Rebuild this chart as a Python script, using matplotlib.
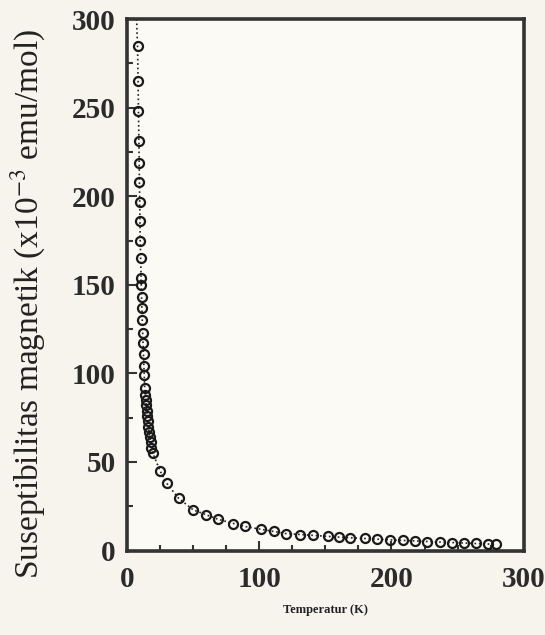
import numpy as np
import matplotlib
matplotlib.use('Agg')
import matplotlib.pyplot as plt
from matplotlib.ticker import MultipleLocator

temp = [8.0, 8.3, 8.6, 8.9, 9.1, 9.3, 9.5, 9.8, 10.0, 10.3, 10.6, 10.8, 11.0,
        11.3, 11.6, 11.9, 12.2, 12.5, 12.8, 13.1, 13.4, 13.8, 14.2, 14.6, 15.0,
        15.4, 15.8, 16.2, 16.7, 17.2, 17.8, 18.5, 19.5, 25, 30, 39, 50, 60, 69,
        80, 89, 101, 111, 120, 131, 141, 152, 160, 169, 180, 189, 199, 209, 218,
        227, 237, 246, 255, 264, 273, 279]
chi = [285, 265, 248, 231, 219, 208, 197, 186, 175, 165, 154, 150, 143,
       137, 130, 123, 117, 111, 104, 99, 92, 88, 85, 82, 79,
       76, 73, 70, 67, 64, 61, 58, 55, 45, 38, 29.5, 23, 20, 17.6,
       15, 13.6, 12, 10.8, 9.6, 9.0, 8.5, 8.0, 7.6, 7.2, 6.8, 6.4, 6.0, 5.7, 5.4,
       5.1, 4.8, 4.5, 4.3, 4.0, 3.7, 3.5]

# dotted guide curve through the data
fit_t = [7.3, 7.6, 8.0, 9.0, 10.0, 11.0, 12.0, 13.4, 15.0, 17.0, 19.5, 25, 30,
         39, 50, 69, 89, 120, 160, 200, 240, 279]
fit_chi = [300, 292, 285, 231, 175, 143, 120, 92, 79, 65, 55, 45, 38,
           29.5, 23, 17.6, 13.6, 9.6, 7.6, 6.0, 4.7, 3.5]

plt.rcParams['font.family'] = ['Liberation Serif', 'DejaVu Serif']
plt.rcParams['mathtext.fontset'] = 'stix'

fig = plt.figure(figsize=(5.45, 6.35), dpi=100, facecolor='#f6f4ec')
ax = fig.add_axes([0.233, 0.133, 0.728, 0.837])
ax.set_facecolor('#fbfaf5')

ax.plot(fit_t, fit_chi, ':', color='#222222', lw=1.2, zorder=2)
ax.plot(temp, chi, 'o', mfc='none', mec='#1a1a1a', mew=1.6, ms=6.5, zorder=3)

ax.set_xlim(0, 300)
ax.set_ylim(0, 300)
ax.xaxis.set_major_locator(MultipleLocator(100))
ax.xaxis.set_minor_locator(MultipleLocator(25))
ax.yaxis.set_major_locator(MultipleLocator(50))
ax.yaxis.set_minor_locator(MultipleLocator(25))
ax.tick_params(which='both', direction='in', colors='#333333', width=1.5)
ax.tick_params(which='major', length=7, labelsize=21)
ax.tick_params(axis='x', which='major', pad=11)
ax.tick_params(axis='y', which='major', pad=8)
ax.tick_params(which='minor', length=4)
for lab in ax.get_xticklabels() + ax.get_yticklabels():
    lab.set_fontweight('bold')
    lab.set_color('#2b2b2b')
for s in ax.spines.values():
    s.set_linewidth(2.6)
    s.set_color('#333333')

ax.set_xlabel('Temperatur (K)', fontsize=9, fontweight='bold', labelpad=8,
              color='#222222')
ax.set_ylabel(r'Suseptibilitas magnetik (x10$^{-3}$ emu/mol)', fontsize=24,
              color='#222222')
ax.yaxis.set_label_coords(-0.20, 0.465)

fig.savefig('out.png', dpi=100, facecolor=fig.get_facecolor())
